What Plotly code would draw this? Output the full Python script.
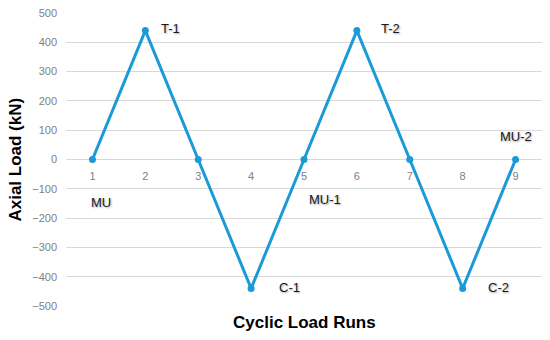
import plotly.graph_objects as go

runs = [1, 2, 3, 4, 5, 6, 7, 8, 9]
axial_load = [0, 440, 0, -440, 0, 440, 0, -440, 0]
y_ticks = [-500, -400, -300, -200, -100, 0, 100, 200, 300, 400, 500]

label_text = ["MU", "T-1", "C-1", "MU-1", "T-2", "C-2", "MU-2"]
label_x = [1.17, 2.48, 4.72, 5.4, 6.64, 8.67, 9.0]
label_y = [-148, 448, -438, -135, 448, -438, 77]

FONT = "Liberation Sans, Arial, sans-serif"

fig = go.Figure()
fig.add_trace(go.Scatter(
    x=runs, y=axial_load, mode="lines+markers",
    line=dict(color="#1B9AD7", width=3),
    marker=dict(color="#1B9AD7", size=7),
    showlegend=False, hoverinfo="skip",
))

for t, xv, yv in zip(label_text, label_x, label_y):
    fig.add_annotation(
        x=xv, y=yv, text=t, showarrow=False, xref="x", yref="y",
        font=dict(family=FONT, size=13, color="#1a1a1a",
                  shadow="1px 1px 2px rgba(0,0,0,0.35)"),
    )

fig.add_annotation(
    x=0.5, y=0.0, xref="paper", yref="paper", yshift=-16, text="<b>Cyclic Load Runs</b>",
    showarrow=False, yanchor="middle",
    font=dict(family=FONT, size=17, color="#000000"),
)
fig.add_annotation(
    x=-0.107, y=0.5, xref="paper", yref="paper", text="<b>Axial Load (kN)</b>",
    showarrow=False, textangle=-90, xanchor="center",
    font=dict(family=FONT, size=17, color="#000000"),
)

fig.update_layout(
    template="none",
    width=550, height=340,
    margin=dict(l=66, r=8, t=13, b=34),
    paper_bgcolor="white", plot_bgcolor="white",
    font=dict(family=FONT, color="#808080"),
    xaxis=dict(
        range=[0.5, 9.5], tickvals=runs, ticktext=[str(r) for r in runs],
        showgrid=False, zeroline=False, showline=False,
        anchor="free", position=0.5, ticks="", ticklabelstandoff=8,
        tickfont=dict(family=FONT, size=11, color="#808080"),
    ),
    yaxis=dict(
        range=[-500, 500], tickvals=y_ticks,
        showgrid=True, gridcolor="#d9d9d9", gridwidth=1,
        zeroline=True, zerolinecolor="#d9d9d9", zerolinewidth=1,
        showline=False, ticks="", ticklabelstandoff=8,
        tickfont=dict(family=FONT, size=11, color="#808080"),
    ),
)

fig.write_html("out.html", config={"displayModeBar": False},
               post_script="document.body.style.margin='0';")
